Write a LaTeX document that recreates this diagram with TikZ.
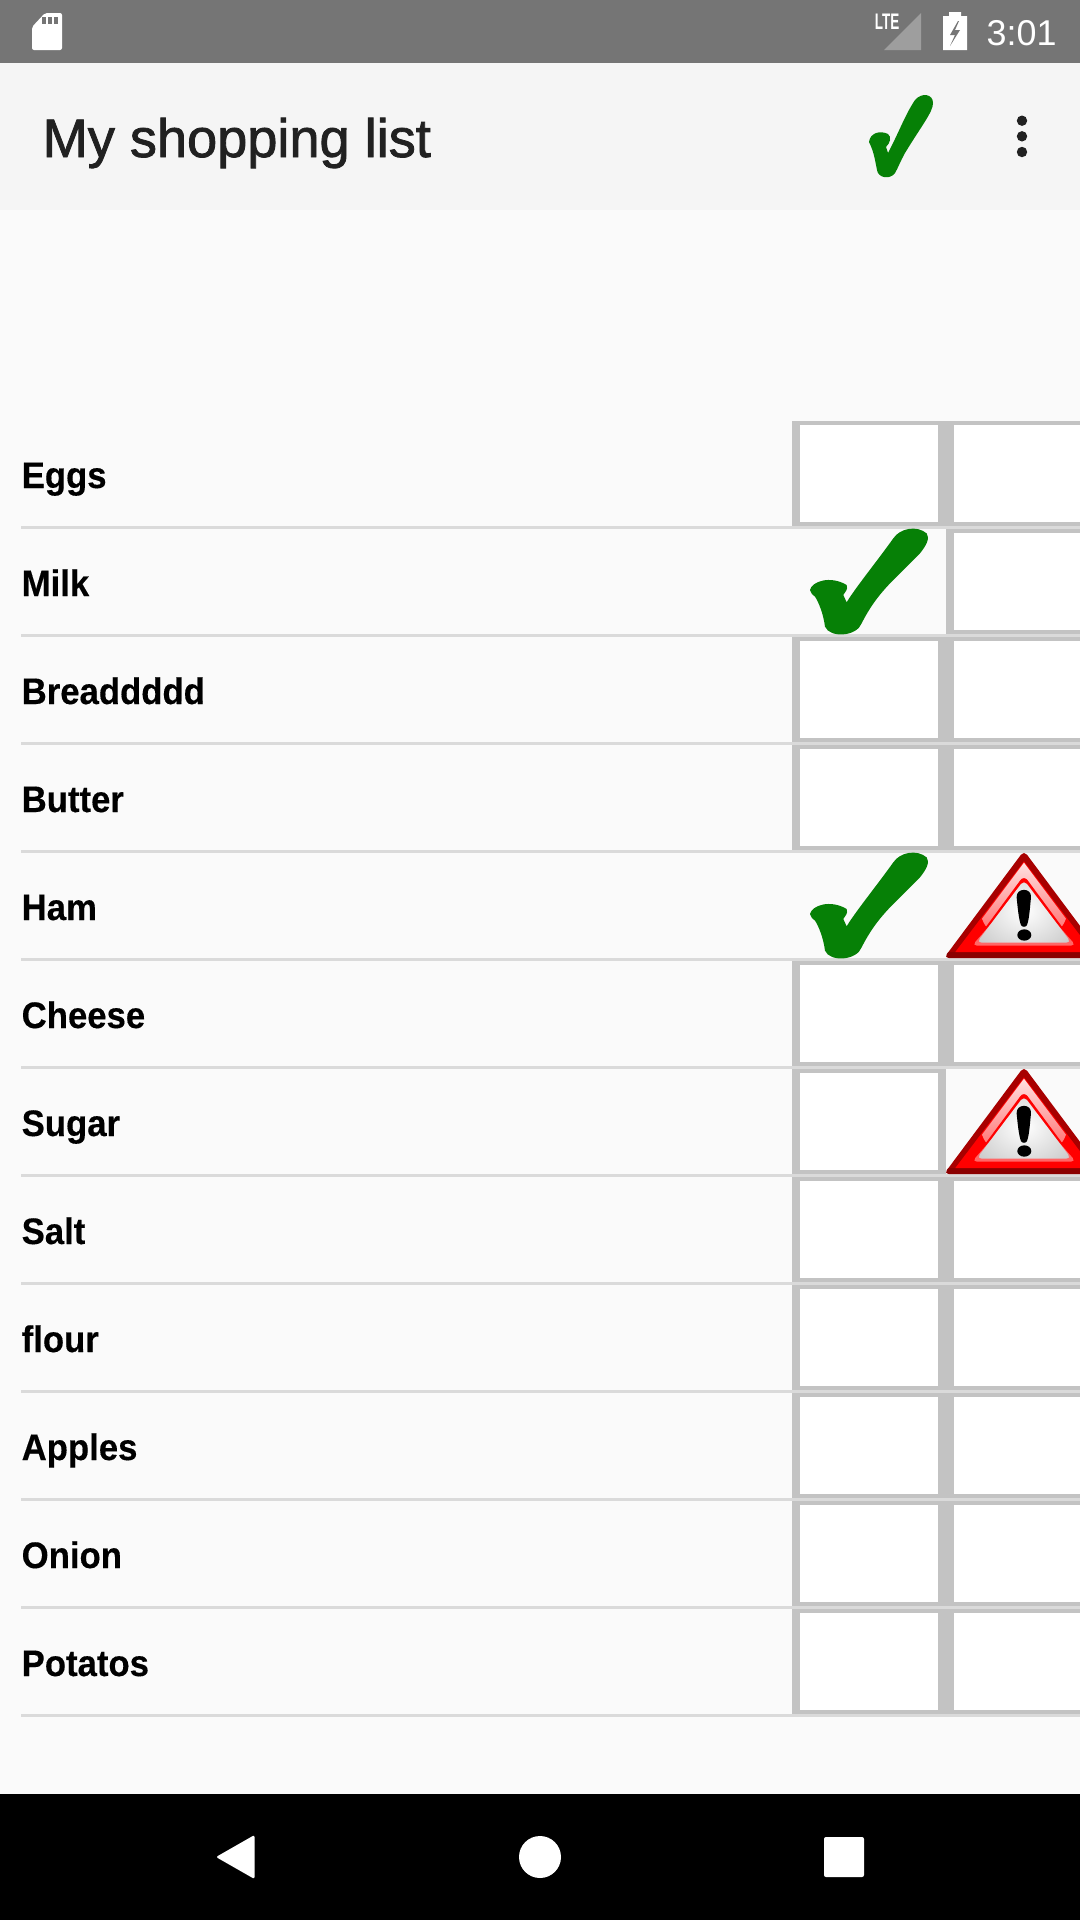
\documentclass[tikz,border=0pt]{standalone}
\usepackage{fontspec}
\usepackage{xcolor}
\setmainfont{Liberation Sans}
\usetikzlibrary{positioning, calc, shadings}
\newfontfamily\titlefont[FakeBold=1.5]{Liberation Sans}
\newfontfamily\itemfont[BoldFeatures={FakeStretch=0.94,FakeBold=0.3}]{Liberation Sans}

\definecolor{statusgray}{HTML}{757575}
\definecolor{signalgray}{HTML}{9E9E9E}
\definecolor{barwhite}{HTML}{F5F5F5}
\definecolor{pagewhite}{HTML}{FAFAFA}
\definecolor{titleblack}{HTML}{212121}
\definecolor{cellgray}{HTML}{C3C3C3}
\definecolor{linegray}{HTML}{DADADA}
\definecolor{tickgreen}{HTML}{068006}
\definecolor{warnrim}{HTML}{A80000}
\definecolor{warnbase}{HTML}{8B0000}
\definecolor{warnred}{HTML}{FF0000}

\tikzset{
  itemlabel/.style={anchor=base west, inner sep=0pt, text=black, font=\fontsize{10.5pt}{12pt}\itemfont\bfseries},
  cellborder/.style={fill=cellgray},
  cellinside/.style={fill=white},
  % big tick of the list rows
  tickmark/.pic={
    \fill[tickgreen] (90,540) .. controls (95,515) and (150,495) .. (200,525)
      .. controls (205,540) and (195,545) .. (190,555) -- (200,577)
      .. controls (225,535) and (290,455) .. (340,385)
      .. controls (360,355) and (410,345) .. (440,370)
      .. controls (450,385) and (440,405) .. (420,430)
      -- (340,510) .. controls (300,550) and (270,590) .. (245,640)
      .. controls (230,680) and (150,685) .. (135,650)
      .. controls (130,610) and (115,575) .. (105,560)
      .. controls (100,555) and (90,550) .. (90,540) -- cycle;
  },
  % warning triangle of the list rows
  warnmark/.pic={
    \fill[warnrim, rounded corners=0.5mm] (732,20) -- (492,342) -- (972,342) -- cycle;
    \begin{scope}
      \clip[rounded corners=0.5mm] (732,20) -- (492,342) -- (972,342) -- cycle;
      \fill[warnbase] (480,324) rectangle (984,342);
    \end{scope}
    \fill[warnred] (732,52) -- (526,324) -- (938,324) -- cycle;
    \shade[top color=red!12, bottom color=red!55!white] (732,56) -- (606,224)
      .. controls (620,262) and (635,258) .. (650,250) -- (732,140)
      -- (814,250) .. controls (829,258) and (844,262) .. (858,224) -- cycle;
    \fill[warnred, rounded corners=0.6mm] (732,94) -- (576,305) -- (888,305) -- cycle;
    \fill[red!60!white, rounded corners=0.5mm] (640,232) -- (576,305) -- (888,305) -- (824,232) -- cycle;
    \begin{scope}
      \clip[rounded corners=0.5mm] (732,108) -- (590,296) -- (874,296) -- cycle;
      \shade[inner color=white, outer color=black!20] (560,60) rectangle (904,340);
    \end{scope}
    \fill[black] (710,160) .. controls (708,130) and (756,130) .. (753,160)
      .. controls (750,190) and (748,225) .. (741,243)
      .. controls (738,250) and (726,250) .. (723,243)
      .. controls (716,225) and (713,190) .. (710,160) -- cycle;
    \fill[black] (733,273) ellipse (21 and 17);
  },
}

\begin{document}
\begin{tikzpicture}[x=0.01cm, y=-0.01cm]
  \clip (0,0) rectangle (1080,1920);

  % Page, bars
  \fill[pagewhite] (0,0) rectangle (1080,1794);
  \fill[statusgray] (0,0) rectangle (1080,63);
  \fill[barwhite] (0,63) rectangle (1080,210);
  \fill[black] (0,1794) rectangle (1080,1920);

  % Status bar icons
  \fill[white, rounded corners=0.2mm] (32,27) -- (45,13) -- (62,13) -- (62,50) -- (32,50) -- cycle;
  \foreach \x in {44,50,56} {
    \fill[statusgray] (\x-1.8,17) rectangle (\x+1.8,24);
  }
  \node[inner sep=0pt, text=white, xscale=0.6, transform shape, font=\fontsize{6.4pt}{7pt}\selectfont\bfseries] (lte) at (887,22) {LTE};
  \fill[signalgray] (884,50) -- (921,50) -- (921,13) -- cycle;
  \fill[white] (943,16) -- (949,16) -- (949,12) -- (961,12) -- (961,16) -- (967,16) -- (967,50) -- (943,50) -- cycle;
  \fill[statusgray] (958,21) -- (950,35) -- (955,35) -- (950,46) -- (960,30) -- (955,30) -- (959,21) -- cycle;
  \node[anchor=base west, inner sep=0pt, text=white, font=\fontsize{10.2pt}{12pt}\selectfont] (clock) at (986,45) {3:01};

  % Toolbar
  \node[anchor=base west, inner sep=0pt, text=titleblack, font=\fontsize{15.4pt}{18pt}\titlefont] (title) at (42,157) {My shopping list};
  \fill[tickgreen] (869,142) .. controls (870,133) and (880,130) .. (888,134)
    .. controls (892,137) and (890,143) .. (886,147) -- (888,153)
    .. controls (900,130) and (905,115) .. (915,100)
    .. controls (922,92) and (933,94) .. (933,103)
    .. controls (933,112) and (922,125) .. (905,153)
    .. controls (900,162) and (898,168) .. (895,173)
    .. controls (890,180) and (878,178) .. (877,170)
    .. controls (875,160) and (874,152) .. (869,142) -- cycle;
  \foreach \y in {120.7,136.3,152} {
    \fill[titleblack] (1022,\y) circle (5.2);
  }

  % List rows
  \foreach \name [count=\r from 0] in {Eggs,Milk,Breaddddd,Butter,Ham,Cheese,Sugar,Salt,flour,Apples,Onion,Potatos} {
    \node[itemlabel] (item\r) at (21,{488+108*\r}) {\name};
  }

  % First column boxes
  \foreach \r in {0,2,3,5,6,7,8,9,10,11} {
    \fill[cellborder] (792,{421+108*\r}) rectangle (946,{526+108*\r});
    \fill[cellinside] (800,{425+108*\r}) rectangle (938,{521.7+108*\r});
  }
  % Second column boxes
  \foreach \r in {0,1,2,3,5,7,8,9,10,11} {
    \fill[cellborder] (946,{421+108*\r}) rectangle (1080,{526+108*\r});
    \fill[cellinside] (954,{425+108*\r}) rectangle (1080,{521.7+108*\r});
  }

  % Row lines
  \foreach \r in {0,...,11} {
    \fill[linegray] (21,{526+108*\r}) rectangle (1080,{529+108*\r});
  }

  % Ticks and warnings
  \pic[scale=0.3333] at (780,410) {tickmark};
  \pic[scale=0.3333] at (780,734) {tickmark};
  \pic[scale=0.3333] at (780,844) {warnmark};
  \pic[scale=0.3333] at (780,1060) {warnmark};

  % Navigation bar
  \fill[white, rounded corners=0.2mm] (216,1857) -- (254.5,1835) -- (254.5,1879) -- cycle;
  \fill[white] (540,1857) circle (21);
  \fill[white, rounded corners=0.2mm] (824,1837) rectangle (864,1877);
\end{tikzpicture}
\end{document}
